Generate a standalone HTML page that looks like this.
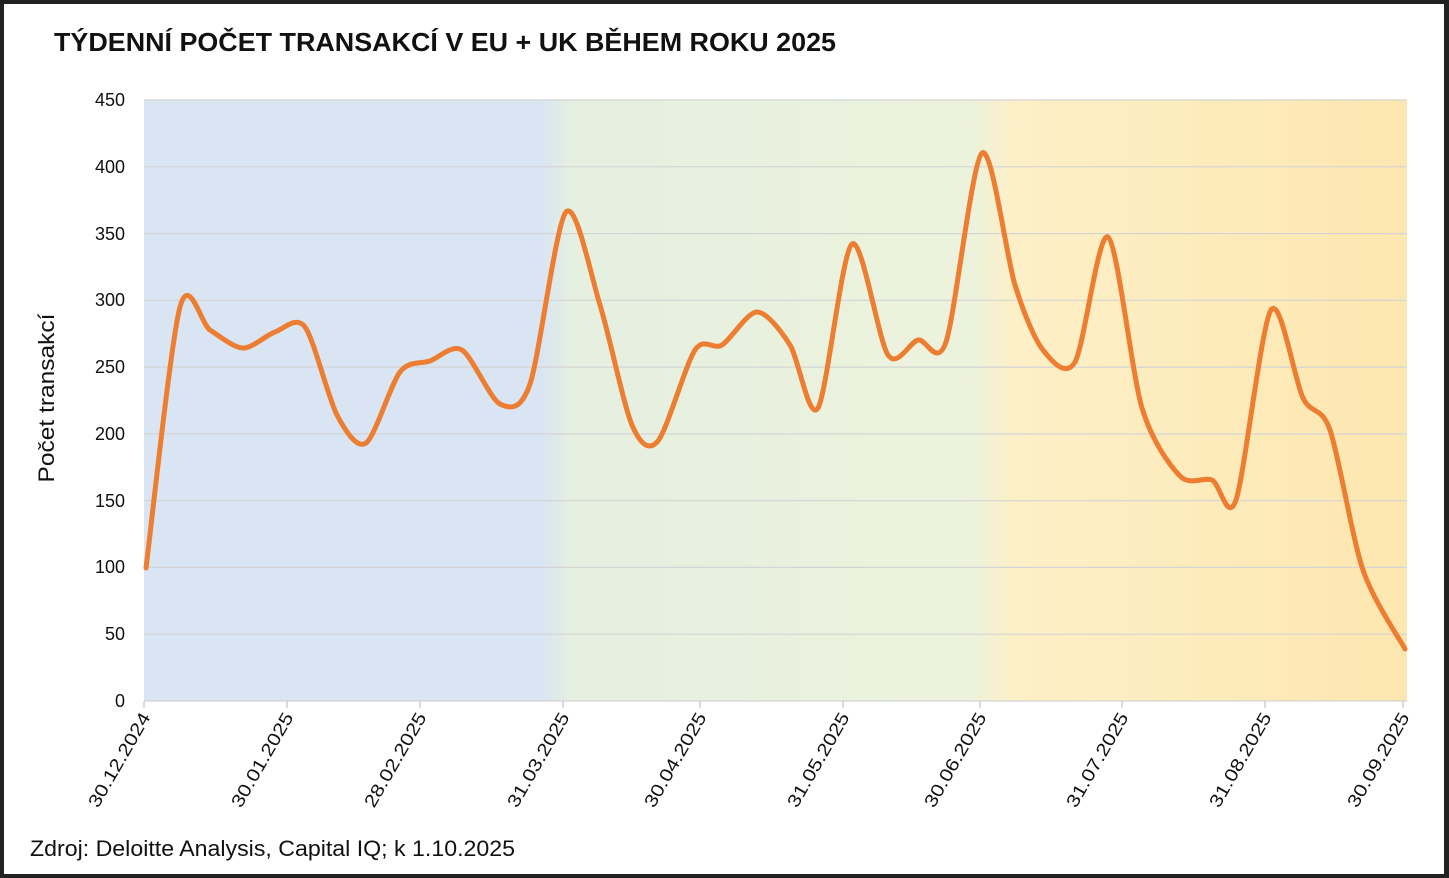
<!DOCTYPE html>
<html><head><meta charset="utf-8"><style>
html,body{margin:0;padding:0;background:#222;}
#c{position:absolute;left:4px;top:4px;width:1440px;height:870px;background:#fff;}
svg{position:absolute;left:0;top:0}
text{font-family:"Liberation Sans","DejaVu Sans",sans-serif;}
</style></head><body>
<div id="c"></div>
<svg width="1449" height="878" viewBox="0 0 1449 878">
<defs>
<linearGradient id="bg" x1="144" x2="1407" y1="0" y2="0" gradientUnits="userSpaceOnUse">
<stop offset="0" stop-color="#d9e5f2"/>
<stop offset="0.315" stop-color="#d9e5f2"/>
<stop offset="0.34" stop-color="#e6f0e0"/>
<stop offset="0.46" stop-color="#e8f1df"/>
<stop offset="0.655" stop-color="#edf2dc"/>
<stop offset="0.69" stop-color="#fdefc7"/>
<stop offset="1" stop-color="#fde7b0"/>
</linearGradient>
</defs>
<rect x="144" y="100" width="1263" height="601" fill="url(#bg)"/>
<g stroke="#d4d4d4" stroke-width="1.2">
<line x1="144" x2="1407" y1="100" y2="100"/>
<line x1="144" x2="1407" y1="166.8" y2="166.8"/>
<line x1="144" x2="1407" y1="233.6" y2="233.6"/>
<line x1="144" x2="1407" y1="300.3" y2="300.3"/>
<line x1="144" x2="1407" y1="367.1" y2="367.1"/>
<line x1="144" x2="1407" y1="433.9" y2="433.9"/>
<line x1="144" x2="1407" y1="500.7" y2="500.7"/>
<line x1="144" x2="1407" y1="567.4" y2="567.4"/>
<line x1="144" x2="1407" y1="634.2" y2="634.2"/>
<line x1="144" x2="1407" y1="701" y2="701"/>
</g>
<g stroke="#cfcfcf" stroke-width="1.5" id="ticks"></g>
<text x="54" y="51" font-size="26" font-weight="bold" fill="#111" textLength="782" lengthAdjust="spacingAndGlyphs">TÝDENNÍ POČET TRANSAKCÍ V EU + UK BĚHEM ROKU 2025</text>
<g font-size="18" fill="#111" text-anchor="end">
<text x="125" y="106">450</text><text x="125" y="173">400</text><text x="125" y="240">350</text>
<text x="125" y="306">300</text><text x="125" y="373">250</text><text x="125" y="440">200</text>
<text x="125" y="507">150</text><text x="125" y="573">100</text><text x="125" y="640">50</text>
<text x="125" y="707">0</text>
</g>
<text transform="translate(54,398) rotate(-90)" font-size="22" fill="#111" text-anchor="middle" textLength="169" lengthAdjust="spacingAndGlyphs">Počet transakcí</text>
<g id="xl" font-size="18" fill="#111" text-anchor="end"></g>
<path id="ln" fill="none" stroke="#ed7d31" stroke-width="5" stroke-linecap="round" stroke-linejoin="round"/>
<text x="30" y="856" font-size="22" fill="#111" textLength="485" lengthAdjust="spacingAndGlyphs">Zdroj: Deloitte Analysis, Capital IQ; k 1.10.2025</text>
</svg>
<script>
var ticks=[[144,"30.12.2024"],[287,"30.01.2025"],[420,"28.02.2025"],[563,"31.03.2025"],[700,"30.04.2025"],[843,"31.05.2025"],[980,"30.06.2025"],[1122,"31.07.2025"],[1265,"31.08.2025"],[1403,"30.09.2025"]];
var NS="http://www.w3.org/2000/svg",tg=document.getElementById("ticks"),xl=document.getElementById("xl");
ticks.forEach(function(t){var l=document.createElementNS(NS,"line");l.setAttribute("x1",t[0]);l.setAttribute("x2",t[0]);l.setAttribute("y1",701);l.setAttribute("y2",708);tg.appendChild(l);
var s=document.createElementNS(NS,"text");s.setAttribute("transform","translate("+(t[0]+7)+",717) rotate(-60)");s.setAttribute("textLength","106");s.setAttribute("lengthAdjust","spacingAndGlyphs");s.textContent=t[1];xl.appendChild(s);});
var p=[[146,568],[180,307],[210,330],[243,348],[275,332],[305,327],[337,415],[366,443],[400,372],[430,361],[462,350],[500,404],[530,384],[566,212],[600,305],[632,425],[658,441],[695,350],[722,345],[757,312],[790,345],[818,408],[852,244],[888,355],[918,340],[946,342],[982,153],[1015,285],[1043,350],[1075,362],[1108,237],[1142,408],[1180,476],[1212,480],[1236,500],[1271,310],[1303,398],[1330,430],[1363,570],[1405,649]];
var d="M"+p[0][0]+","+p[0][1];
for(var i=0;i<p.length-1;i++){var a=p[Math.max(i-1,0)],b=p[i],c=p[i+1],e=p[Math.min(i+2,p.length-1)];var k=7;
d+=" C"+(b[0]+(c[0]-a[0])/k)+","+(b[1]+(c[1]-a[1])/k)+" "+(c[0]-(e[0]-b[0])/k)+","+(c[1]-(e[1]-b[1])/k)+" "+c[0]+","+c[1];}
document.getElementById("ln").setAttribute("d",d);
</script>
</body></html>
